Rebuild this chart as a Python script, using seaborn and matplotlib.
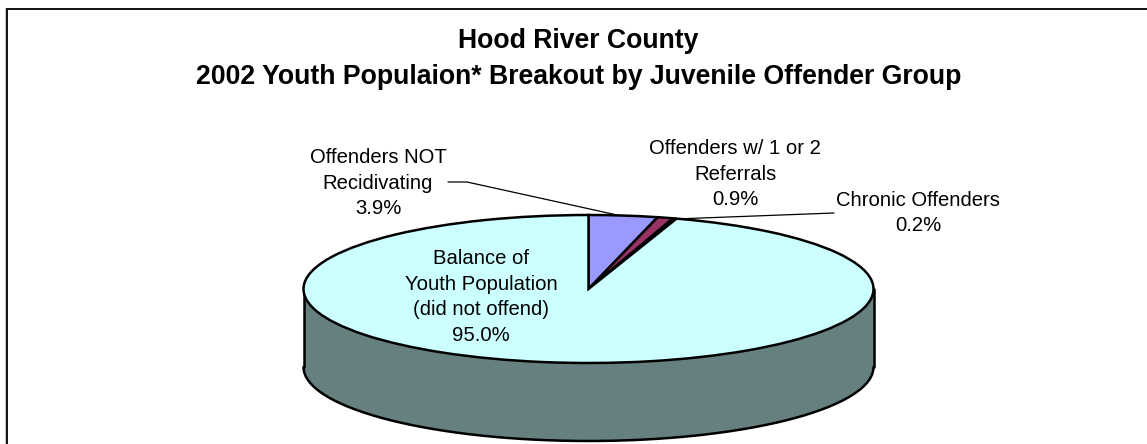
import numpy as np
import matplotlib
matplotlib.use("Agg")
import matplotlib.pyplot as plt
import seaborn as sns

sns.set_theme(style="white")
plt.rcParams['font.family'] = ['Liberation Sans', 'DejaVu Sans']

title = "Hood River County\n2002 Youth Populaion* Breakout by Juvenile Offender Group"
groups = ["Offenders NOT\nRecidivating", "Offenders w/ 1 or 2\nReferrals", "Chronic Offenders",
          "Balance of\nYouth Population\n(did not offend)"]
shares = [3.9, 0.9, 0.2, 95.0]
colors = ["#9999FF", "#993366", "#FFFFCC", "#CCFFFF"]
side_color = "#667F7F"

W, H = 1147, 444
fig = plt.figure(figsize=(W/100, H/100), dpi=100, facecolor="white")

# full-figure pixel overlay for frame, labels
bg = fig.add_axes([0, 0, 1, 1])
bg.set_xlim(0, W); bg.set_ylim(H, 0); bg.axis("off")
bg.plot([5, 5, W], [H, 8, 8], color="#c8c8c8", lw=0.8, solid_joinstyle="miter")
bg.plot([6.5, 6.5, W], [H, 9.5, 9.5], color="black", lw=1.3, solid_joinstyle="miter")

# pie axes: unit circle mapped to the ellipse
cx, cy, rx, ry, depth = 588.5, 289, 285, 74, 78
xl, yl = 1.25, 1.25
ax = fig.add_axes([(cx - rx*xl)/W, 1 - (cy + ry*yl + depth)/H, 2*rx*xl/W, (2*ry*yl + depth)/H])
ax.patch.set_alpha(0)

d = depth/ry
t = np.linspace(np.pi, 2*np.pi, 200)
x = np.cos(t)
ax.fill_between(x, np.sin(t), np.sin(t) - d, color=side_color, lw=0, zorder=1)
ax.plot(x, np.sin(t) - d, color="black", lw=1.8, zorder=2)
ax.plot([-1, -1], [0, -d], color="black", lw=1.8, zorder=2)
ax.plot([1, 1], [0, -d], color="black", lw=1.8, zorder=2)
wedges, _ = ax.pie(shares, colors=colors, startangle=90, counterclock=False, radius=1,
                   wedgeprops=dict(edgecolor="black", linewidth=1.8, zorder=3))
ax.set_aspect("auto")
ax.set_xlim(-xl, xl)
ax.set_ylim(-yl - d, yl)
ax.set_axis_off()

bg.set_zorder(2)
bg.text(578.5, 59, title, ha="center", va="center", fontsize=19.2, fontweight="bold",
        color="black", linespacing=1.47)
fs = 14.6
def lab(x, y, s):
    bg.text(x, y, s, ha="center", va="center", fontsize=fs, color="black", linespacing=1.45)
lab(378, 183, groups[0] + f"\n{shares[0]:.1f}%")
lab(735, 174, groups[1] + f"\n{shares[1]:.1f}%")
lab(918, 213, groups[2] + f"\n{shares[2]:.1f}%")
lab(481, 297, groups[3] + f"\n{shares[3]:.1f}%")
bg.plot([448, 467, 617], [182, 182, 215], color="black", lw=0.9)
bg.plot([675, 834], [219, 213], color="black", lw=0.9)

fig.savefig("out.png", dpi=100, facecolor="white")
